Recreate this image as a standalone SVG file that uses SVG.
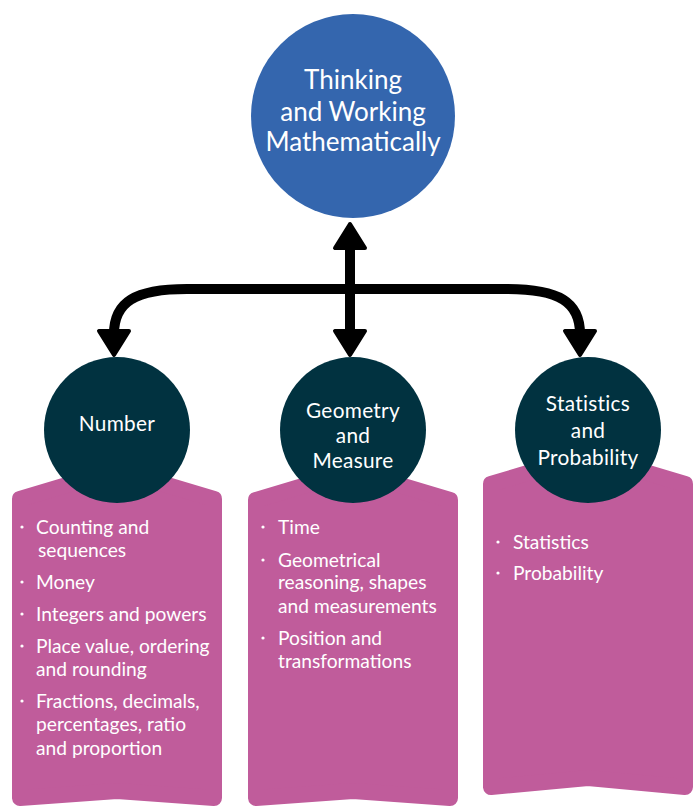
<svg xmlns="http://www.w3.org/2000/svg" width="700" height="806" viewBox="0 0 700 806">
<style>
.banner{fill:#C05C9B;stroke:#C05C9B;stroke-width:16;stroke-linejoin:round}
.dark{fill:#013240}
.t{font-family:Lato,"Open Sans",sans-serif;fill:#FFFFFF}
.title{font-size:20.8px;text-anchor:middle;letter-spacing:0.3px}
.top{font-size:26px;text-anchor:middle}
.item{font-size:19.2px}
.dot{fill:#FFFFFF}
.conn{fill:none;stroke:#000000;stroke-width:10}
.head{fill:#000000;stroke:#000000;stroke-width:4;stroke-linejoin:round}
</style>
<rect width="700" height="806" fill="#FFFFFF"/>
<g id="connectors">
<path class="conn" d="M350,246 V334"/>
<path class="conn" d="M350,289 H187 C135,289 114,302 114,334"/>
<path class="conn" d="M350,289 H507 C559,289 580,302 580,334"/>
<polygon class="head" points="350,224 335,248 365,248"/>
<polygon class="head" points="350,355 335,331 365,331"/>
<polygon class="head" points="114,355 99,331 129,331"/>
<polygon class="head" points="580,355 565,331 595,331"/>
</g>
<g id="top-node">
<circle cx="353" cy="116" r="102" fill="#3466AE"/>
<text class="t top" x="353" y="89">Thinking</text>
<text class="t top" x="353" y="121">and Working</text>
<text class="t top" x="353" y="151">Mathematically</text>
</g>
<g id="number">
<polygon class="banner" points="20,499 117,470 214,499 214,798 117,791 20,798"/>
<circle class="dark" cx="117" cy="430" r="73"/>
<text class="t title" x="117" y="431">Number</text>
<circle class="dot" cx="22" cy="527" r="1.6"/>
<text class="t item" x="36" y="534">Counting and</text>
<text class="t item" x="38" y="557">sequences</text>
<circle class="dot" cx="22" cy="582" r="1.6"/>
<text class="t item" x="36" y="589">Money</text>
<circle class="dot" cx="22" cy="614" r="1.6"/>
<text class="t item" x="36" y="621">Integers and powers</text>
<circle class="dot" cx="22" cy="646" r="1.6"/>
<text class="t item" x="36" y="653">Place value, ordering</text>
<text class="t item" x="36" y="676">and rounding</text>
<circle class="dot" cx="22" cy="701" r="1.6"/>
<text class="t item" x="36" y="708">Fractions, decimals,</text>
<text class="t item" x="36" y="731">percentages, ratio</text>
<text class="t item" x="36" y="755">and proportion</text>
</g>
<g id="geometry">
<polygon class="banner" points="256,500 353,471 450,500 450,798 353,791 256,798"/>
<circle class="dark" cx="353" cy="430" r="73"/>
<text class="t title" x="353" y="418">Geometry</text>
<text class="t title" x="353" y="443">and</text>
<text class="t title" x="353" y="468">Measure</text>
<circle class="dot" cx="263" cy="527" r="1.6"/>
<text class="t item" x="278" y="534">Time</text>
<circle class="dot" cx="263" cy="560" r="1.6"/>
<text class="t item" x="278" y="567">Geometrical</text>
<text class="t item" x="278" y="589">reasoning, shapes</text>
<text class="t item" x="278" y="613">and measurements</text>
<circle class="dot" cx="263" cy="638" r="1.6"/>
<text class="t item" x="278" y="645">Position and</text>
<text class="t item" x="278" y="668">transformations</text>
</g>
<g id="statistics">
<polygon class="banner" points="491,484 588,455 685,484 685,787 588,778 491,787"/>
<circle class="dark" cx="588" cy="430" r="73"/>
<text class="t title" x="588" y="411">Statistics</text>
<text class="t title" x="588" y="438">and</text>
<text class="t title" x="588" y="465">Probability</text>
<circle class="dot" cx="498" cy="542" r="1.6"/>
<text class="t item" x="513" y="549">Statistics</text>
<circle class="dot" cx="498" cy="573" r="1.6"/>
<text class="t item" x="513" y="580">Probability</text>
</g>
</svg>
